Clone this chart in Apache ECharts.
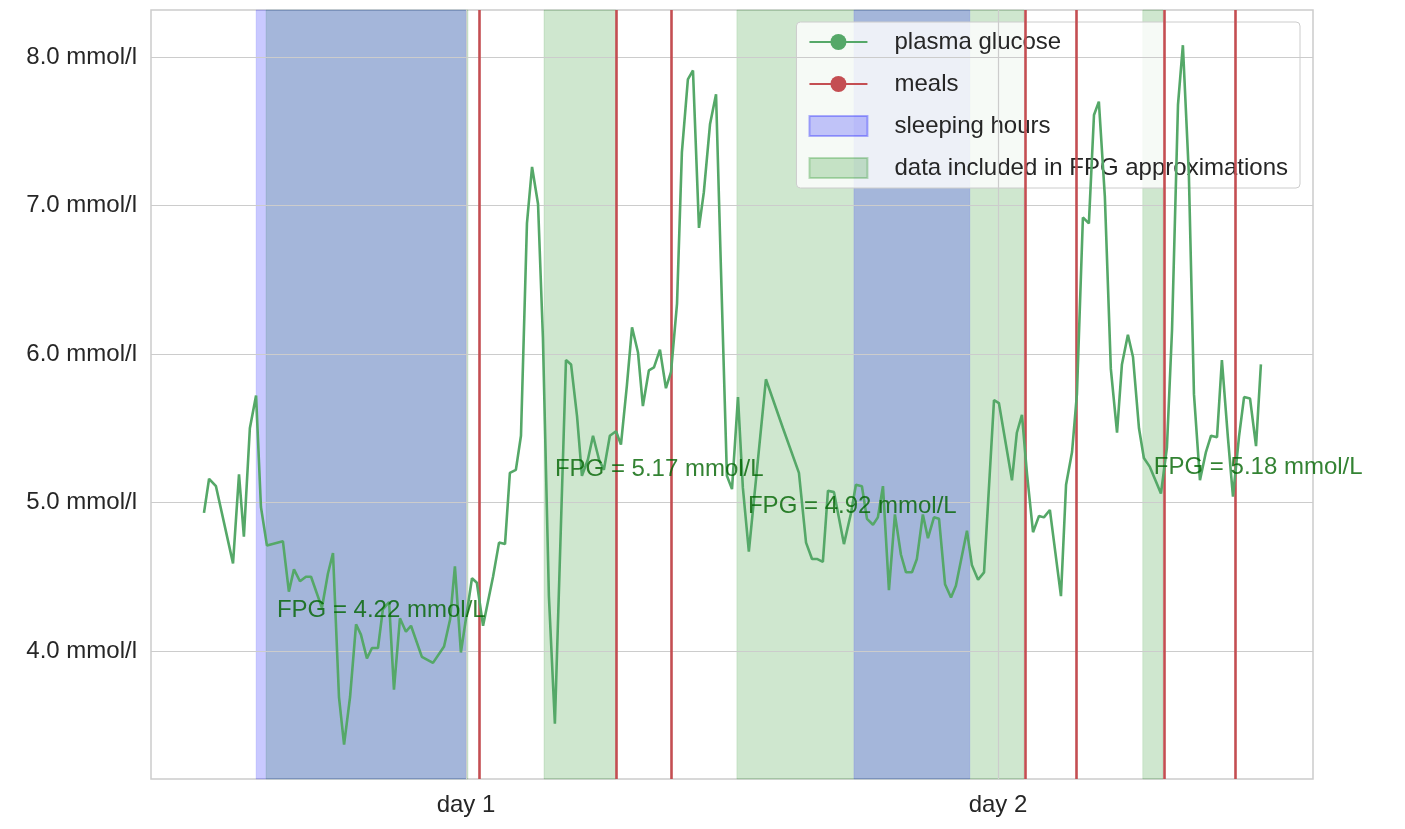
<!DOCTYPE html>
<html><head><meta charset="utf-8">
<script src="https://cdn.jsdelivr.net/npm/echarts@6/dist/echarts.min.js"></script>
<style>html,body{margin:0;padding:0;background:#fff}#c{width:1405px;height:829px}</style>
</head><body><div id="c"></div>
<script>
// time in hours, glucose in mmol/l
const times = [11.64,11.87,12.18,12.95,13.22,13.44,13.71,13.99,14.21,14.48,15.20,15.47,15.70,15.97,16.24,16.47,16.96,17.23,17.46,17.73,17.96,18.23,18.50,18.72,18.99,19.22,19.49,19.71,19.99,20.21,20.48,20.75,20.98,21.47,21.97,22.47,22.74,22.96,23.23,23.73,23.95,24.23,24.68,24.95,25.22,25.44,25.71,25.94,26.21,26.44,26.71,26.93,27.20,27.47,27.97,28.20,28.47,28.69,28.96,29.19,29.46,29.68,29.95,30.23,30.45,30.72,30.95,31.22,31.44,31.71,31.94,32.21,32.48,32.71,32.98,33.20,33.47,33.70,33.97,34.19,34.47,34.74,34.96,35.23,35.46,35.73,35.95,36.22,36.99,37.76,38.48,38.80,39.07,39.29,39.56,39.79,40.06,40.51,40.83,41.05,41.32,41.55,41.82,42.04,42.27,42.54,42.81,43.08,43.31,43.58,43.80,44.07,44.30,44.57,44.80,45.07,45.34,45.56,46.06,46.28,46.56,46.83,47.28,47.50,48.09,48.31,48.54,48.77,49.04,49.31,49.53,49.80,50.30,50.53,50.80,51.02,51.29,51.56,51.79,52.01,52.28,52.55,52.83,53.05,53.32,53.55,53.82,54.04,54.31,54.59,54.81,55.08,55.31,55.58,55.80,56.07,56.30,56.57,56.84,57.07,57.34,57.56,57.83,58.06,58.33,58.56,58.83,59.10,59.32];
const glucose = [4.93,5.16,5.11,4.59,5.19,4.77,5.50,5.72,4.97,4.71,4.74,4.40,4.55,4.47,4.50,4.50,4.29,4.52,4.66,3.69,3.37,3.69,4.18,4.11,3.95,4.02,4.02,4.28,4.33,3.74,4.22,4.13,4.17,3.96,3.92,4.03,4.21,4.57,3.99,4.49,4.46,4.17,4.50,4.73,4.72,5.20,5.22,5.45,6.88,7.26,7.01,6.11,4.37,3.51,5.96,5.93,5.58,5.18,5.29,5.45,5.29,5.22,5.45,5.48,5.39,5.79,6.18,6.01,5.65,5.89,5.91,6.03,5.77,5.88,6.34,7.36,7.85,7.91,6.85,7.09,7.55,7.75,6.58,5.18,5.09,5.71,5.10,4.67,5.83,5.50,5.20,4.73,4.62,4.62,4.60,5.08,5.07,4.72,4.93,5.12,5.11,4.89,4.85,4.90,5.11,4.41,4.92,4.65,4.53,4.53,4.62,4.92,4.76,4.90,4.89,4.45,4.36,4.44,4.81,4.58,4.48,4.53,5.69,5.67,5.15,5.47,5.59,5.19,4.80,4.91,4.90,4.95,4.37,5.12,5.34,5.73,6.92,6.88,7.61,7.70,7.06,5.90,5.47,5.93,6.13,5.98,5.50,5.30,5.24,5.14,5.06,5.37,6.16,7.68,8.08,7.21,5.73,5.15,5.34,5.45,5.44,5.96,5.44,5.04,5.44,5.71,5.70,5.38,5.93];
const meals = [24.05,30.22,32.71,48.67,50.97,54.94,58.15];
const sleepStart = [13.99,40.96];
const sleepEnd = [23.46,46.19];
const fpgStart = [14.44,26.98,35.68,53.99];
const fpgEnd = [23.55,30.22,48.63,54.90];
const fpgValues = [4.22,5.17,4.92,5.18];
const fpgLabelX = [14.93,27.47,36.18,54.49];
const dayTicks = [23.46,47.46];
const dayLabels = ['day 1','day 2'];
const yTicks = [4,5,6,7,8];

const chart = echarts.init(document.getElementById('c'));
const font = 'Liberation Sans, Arial, sans-serif';
chart.setOption({
  animation:false,
  grid:{left:151,right:92,top:10,bottom:50,show:true,borderColor:'#cccccc',borderWidth:1.5,backgroundColor:'transparent'},
  legend:{
    orient:'vertical', right:105, top:22, padding:[8,12,8,12],
    backgroundColor:'rgba(255,255,255,0.8)', borderColor:'#cccccc', borderWidth:1, borderRadius:4,
    itemWidth:58, itemHeight:20, itemGap:18,
    textStyle:{fontFamily:font,fontSize:24,color:'#262626',padding:[0,0,0,22]},
    data:[
      {name:'plasma glucose'},
      {name:'meals'},
      {name:'sleeping hours',icon:'rect'},
      {name:'data included in FPG approximations',icon:'rect'}
    ]
  },
  xAxis:{type:'value',min:9.25,max:61.67,
    axisLine:{show:false},axisTick:{show:false},splitLine:{show:false},
    axisLabel:{customValues:dayTicks,fontFamily:font,fontSize:24,color:'#262626',margin:14,
      formatter:v=>dayLabels[dayTicks.indexOf(v)]||''}},
  yAxis:{type:'value',min:3.138,max:8.317,
    axisLine:{show:false},axisTick:{show:false},splitLine:{show:false},
    axisLabel:{customValues:yTicks,fontFamily:font,fontSize:24,color:'#262626',margin:14,
      formatter:v=>v.toFixed(1)+' mmol/l'}},
  series:[
    {name:'grid',type:'line',data:[],silent:true,z:1,
      markLine:{silent:true,symbol:'none',label:{show:false},animation:false,
        lineStyle:{color:'#cccccc',width:1.2,type:'solid'},
        data:yTicks.map(v=>({yAxis:v})).concat(dayTicks.map(v=>({xAxis:v})))}},
    {name:'data included in FPG approximations',type:'line',data:[],z:2,
      itemStyle:{color:'rgba(0,128,0,0.2)',borderColor:'rgba(0,128,0,0.25)',borderWidth:1},
      markArea:{silent:true,itemStyle:{color:'rgba(0,128,0,0.19)',borderColor:'rgba(0,128,0,0.12)',borderWidth:1},
        data:fpgStart.map((s,i)=>[{xAxis:s},{xAxis:fpgEnd[i]}])}},
    {name:'sleeping hours',type:'line',data:[],z:3,
      itemStyle:{color:'rgba(0,0,255,0.22)',borderColor:'rgba(0,0,255,0.3)',borderWidth:1},
      markArea:{silent:true,itemStyle:{color:'rgba(0,0,255,0.21)',borderColor:'rgba(0,0,255,0.1)',borderWidth:1},
        data:sleepStart.map((s,i)=>[{xAxis:s},{xAxis:sleepEnd[i]}])}},
    {name:'plasma glucose',type:'line',z:5,showSymbol:false,symbol:'none',
      data:times.map((t,i)=>[t,glucose[i]]),
      lineStyle:{color:'#55a868',width:2.6},itemStyle:{color:'#55a868'}},
    {name:'meals',type:'line',data:[],z:6,symbol:'none',
      lineStyle:{color:'#c44e52',width:2.6},itemStyle:{color:'#c44e52'},
      markLine:{silent:true,symbol:'none',label:{show:false},
        lineStyle:{color:'#c44e52',width:2.6,type:'solid'},
        data:meals.map(m=>({xAxis:m}))}},
    {name:'fpg',type:'scatter',z:7,symbolSize:0,silent:true,
      data:fpgValues.map((v,i)=>[fpgLabelX[i],v]),
      label:{show:true,position:'inside',align:'left',verticalAlign:'bottom',offset:[0,4],
        fontFamily:font,fontSize:24,color:'#006400',
        formatter:p=>'FPG = '+p.value[1].toFixed(2)+' mmol/L'}}
  ]
});
</script></body></html>
